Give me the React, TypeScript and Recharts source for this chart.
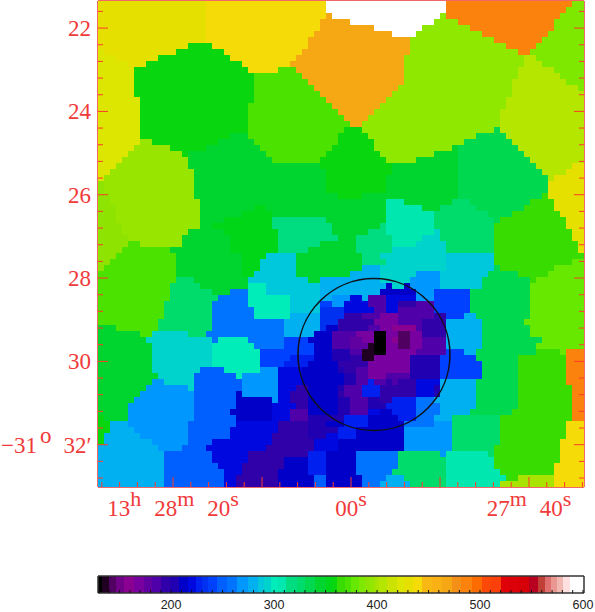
import { ReactElement } from 'react';
import {
  ReferenceArea,
  ReferenceDot,
  Scatter,
  ScatterChart,
  XAxis,
  YAxis,
} from 'recharts';

// intensity scale of the colour bar
const paletteValues = [
  130, 136, 143, 150, 158, 170, 178, 185, 195, 203, 213, 220, 228, 232, 240, 250, 258, 270, 280, 288,
  292, 302, 305, 318, 326, 335, 345, 355, 357, 365, 372, 378, 386, 391, 393, 396, 400, 404, 415,
  423, 430, 440, 448, 458, 468, 477, 487, 497, 506, 516, 524, 533, 543, 552, 560, 566, 572, 578,
  584, 590, 601,
];
const paletteColors = [
  '#000000', '#200020', '#500060', '#700088', '#8a0090', '#7800a0', '#6000a0', '#5000a8', '#3000a8', '#2000b0',
  '#0000c8', '#0008e0', '#0020f0', '#0030f0', '#0040ff', '#0060ff', '#0074ff', '#0098ff', '#00b0f0',
  '#00c8dc', '#00d2cc', '#00ecb8', '#00e8b0', '#00dc80', '#00dc6c', '#00d850', '#00d42e', '#00d618',
  '#08d60f', '#38dc00', '#4ce200', '#66e800', '#7ee800', '#8ee400', '#8ee800', '#98e600', '#a8e400',
  '#b4e600', '#cce200', '#dce600', '#e6e000', '#f5dc08', '#f8b814', '#f8b014', '#f5a814', '#f49018',
  '#fb820c', '#fc6c00', '#fc4808', '#fc400c', '#e00008', '#dc0008', '#d80008', '#b80020', '#c04038',
  '#e07070', '#e89890', '#f0b8b0', '#ffe0e0', '#ffffff', '#ffffff',
];
const colorbarLabels = [200, 300, 400, 500, 600];
const colorbarTicks = [
  130, 140, 150, 160, 170, 180, 190, 200, 210, 220, 230, 240, 250, 260, 270, 280, 290, 300, 310, 320,
  330, 340, 350, 360, 370, 380, 390, 400, 410, 420, 430, 440, 450, 460, 470, 480, 490, 500, 510, 520,
  530, 540, 550, 560, 570, 580, 590, 600,
];

// intensity of each tessellation bin
const binValues: Record<string, number> = {
  a: 430, b: 440, c: 423, D: 357, E: 372, F: 468, G: 600, H: 487, I: 393, J: 386, K: 404, M: 396,
  P: 391, N: 345, R: 335, T: 365, V: 305, W: 326, X: 318, Y: 292, Z: 355, d: 288, e: 280, g: 302,
  h: 258, k: 232, r: 250, s: 240, u: 270, q: 228, t: 220, x: 213, z: 203, w: 195, y: 185, p: 178,
  m: 170, n: 158, o: 143, j: 136, B: 130, A: 378, Q: 400, C: 289,
};

// map rows, top to bottom: bin letter followed by the column where its run ends
const mapRows = [
  'a18 b38 G58 H79 J81',
  'a18 b38 G58 H78 J81',
  'a18 b38 F39 G57 I58 H77 J81',
  'a18 b37 F42 G56 I60 H76 J81',
  'a18 b37 F46 G54 I62 H76 J81',
  'a18 b36 F49 G53 I64 H75 J81',
  'a18 b35 F52 I66 H74 J81',
  'a15 D19 b35 F52 I68 H73 J81',
  'c1 a13 D21 b34 F52 I70 H72 J81',
  'c3 a10 D22 b33 F51 I71 K73 J81',
  'c5 a8 D24 b32 F51 I71 K74 J81',
  'c6 D25 b30 E33 F51 I70 K76 J81',
  'c6 D26 E34 F51 I70 K77 J81',
  'c6 D26 E35 F51 I69 K78 J81',
  'c6 D26 E36 F50 I69 K80 J81',
  'c6 D26 E37 F49 I69 K81',
  'c7 D26 E38 F48 I68 K81',
  'c7 D25 E39 F47 I68 K81',
  'c7 D25 E40 F46 I67 K81',
  'c7 D25 E41 F45 I67 K81',
  'c7 D25 E42 F44 I67 K81',
  'c7 D25 E41 D44 I66 R67 K81',
  'c7 D22 N25 E40 D45 I63 R68 K81',
  'c7 M9 D20 N26 E40 D46 I61 R69 K81',
  'c6 M12 D18 N27 E39 D46 I59 N60 R70 K81',
  'c5 M14 D15 N28 E38 D47 I56 N60 R71 K81',
  'c4 M15 N29 E37 D48 I53 N60 R72 K81',
  'c3 M15 N37 D49 N60 R73 K79 a81',
  'c2 M16 N38 D49 N60 R74 K78 a81',
  'c1 M16 N38 D48 N60 R75 K76 a81',
  'P1 M16 N38 D48 N60 R75 a81',
  'P1 M16 N38 D48 N60 R75 a81',
  'P2 M16 N40 D44 N60 R74 T75 a81',
  'P2 M17 N48 V51 N59 W62 R72 T76 a81',
  'P3 M17 N26 Z28 N48 V54 N57 W63 R71 T76 a81',
  'P3 M17 N24 Z29 N48 V56 W65 R69 T77 a81',
  'P3 M17 N21 Z29 X38 N48 V56 W66 R67 T78 a81',
  'P4 M17 N19 Z29 X39 N47 X48 V56 W66 T78 a81',
  'P4 M15 N21 Z30 X39 N45 X48 V56 Y57 W66 T79 a81',
  'P5 M14 N22 Z30 X40 N43 X49 V54 Y57 W66 T79 a81',
  'P5 E7 M14 N22 Z30 X37 N43 X49 V53 Y58 W66 T80 a81',
  'P4 E12 N22 Z30 X35 N43 X49 Y58 W66 T80 a81',
  'P3 E13 N24 Z28 d33 N44 X47 Y58 C66 T81',
  'P2 E13 N24 Z27 d33 N44 X48 Y58 C66 T79 A81',
  'P1 E13 N24 Z27 d33 N44 e47 Y58 C66 R67 T76 A81',
  'E13 N24 Z26 d33 N42 e47 Y53 u57 C65 R70 T75 A81',
  'E13 W16 N25 d35 N37 e47 Y52 u57 C64 R72 T73 A81',
  'E12 W17 N25 g28 d37 e48 x49 Y51 x52 u57 C64 R72 A81',
  'E12 W19 N22 h25 g28 d37 e47 x53 u56 s62 R72 A81',
  'E12 W20 h25 g32 d37 e39 u42 t44 e45 y48 t53 u56 s62 R72 A81',
  'E11 W19 h25 g32 d37 s39 u41 t45 y48 t50 w53 y56 s62 R72 A81',
  'E11 W19 h26 g32 d37 k41 t46 y48 t50 y56 s62 R72 A81',
  'E11 W19 h26 g32 e37 k41 w44 y47 m50 y56 w58 s61 e63 R72 A81',
  'E10 W19 h31 e37 k40 w46 m50 y54 w58 e64 R71 A81',
  'N3 E10 W19 h31 e37 k38 x40 w45 y47 m49 n53 y54 w58 e64 R72 A81',
  'N7 E9 Y15 W18 h31 e36 x39 y43 m46 B48 m50 o52 m54 w58 e64 R72 A81',
  'N8 Y19 h20 g25 h31 s35 x39 y42 p44 m46 B48 m49 n50 o52 m54 y58 e64 R74 A81',
  'N9 Y19 g26 h31 s36 x39 y42 p45 j46 B48 m50 o52 m54 y58 e64 R73 A81',
  'N9 Y19 g27 s36 x39 z42 y44 j46 B48 m53 y58 s61 e63 R73 T77 A78 H81',
  'N9 Y19 g27 s32 q36 x39 z42 w44 j46 m52 z57 s63 R70 T78 H81',
  'N9 Y19 g27 s31 q35 x40 w45 m52 z57 s64 R70 T78 H81',
  'N9 Y17 r21 g27 u30 t34 x40 z41 w43 y45 m52 z57 s64 R70 T78 H81',
  'N10 Y16 r23 g24 u30 t34 x41 z43 y45 m48 y52 z57 s64 R70 T78 H81',
  'N9 u11 Y16 r24 u30 t34 x41 z43 y45 q46 y48 w49 y50 w53 t57 e63 R70 T78 H81',
  'N8 u15 Y16 r24 u30 t33 w35 x40 z41 y44 q47 w53 t56 z57 e63 R70 T79 H81',
  'N7 u16 r23 x24 u30 t32 w35 x40 w41 y44 q47 w53 t56 z57 e63 R70 T79 H81',
  'N6 u16 r23 x29 u30 t32 w35 x40 z42 y45 z47 w49 q53 h56 e63 R70 T79 H81',
  'N5 u16 r23 x29 t33 w35 x40 z42 y45 z48 q53 h57 e63 R70 T79 H81',
  'N5 u16 r22 x29 t32 y35 x40 z42 y45 t47 x49 q53 h57 e62 R69 T79 H81',
  'D1 N5 u16 r23 x29 t32 y35 z41 q45 x50 q53 h56 e59 W67 T79 H81',
  'D2 e5 u15 r23 t30 w35 z38 x41 q45 x51 h56 u59 W67 T78 b81',
  'D2 e6 u15 r22 t30 w35 z40 q43 x51 u59 W67 T78 b81',
  'D1 e7 u15 r22 t29 w35 z38 t40 q43 x51 u59 W67 T78 b81',
  'D1 e9 u15 r19 t29 w36 t40 x51 u59 W67 T77 b81',
  'e10 u14 r18 t28 w36 t40 x51 u59 W66 T77 b81',
  'e11 r19 t25 w35 q38 x43 h50 W57 u58 V65 W66 T77 b81',
  'e11 r19 t25 w31 x35 q38 x43 h50 W58 V66 T77 b81',
  'e11 r20 t24 w31 x35 q38 x43 h50 W58 V66 T76 b81',
  'e11 r21 t24 w30 x35 q38 x43 h49 W58 V67 T76 b81',
  'e11 r21 t23 w30 x36 r38 x44 h48 e51 W58 V68 T70 Q76 b81',
  'e11 r21 t23 w30 x36 r38 x44 h47 e52 W58 V67 Q76 b81',
];

// axes: RA in seconds from 13h28m00s, Dec in arcmin below -31 deg
const raDomain: [number, number] = [-26.18, 28.43];
const decDomain: [number, number] = [21.35, 33.015];
const raTicks = [
  28, 26, 24, 22, 20, 18, 16, 14, 12, 10, 8, 6, 4, 2, 0, -2, -4, -6, -8, -10, -12, -14, -16, -18, -20,
  -22, -24, -26,
];
const raMajor = [20, 10, 0, -10, -20];
const raLabels: Record<number, [string, string][]> = {
  20: [['13', 'h'], ['28', 'm'], ['20', 's']],
  0: [['00', 's']],
  [-20]: [['27', 'm'], ['40', 's']],
};
const decTicks = [
  21.6, 22, 22.4, 22.8, 23.2, 23.6, 24, 24.4, 24.8, 25.2, 25.6, 26, 26.4, 26.8, 27.2, 27.6, 28, 28.4,
  28.8, 29.2, 29.6, 30, 30.4, 30.8, 31.2, 31.6, 32, 32.4, 32.8,
];
const decMajor = [22, 24, 26, 28, 30, 32];
const aperture = { ra: -2.58, dec: 29.835 };

const WIDTH = 595;
const PLOT = { left: 98, right: 584, top: 1, bottom: 487 };
const CELL = (PLOT.right - PLOT.left) / 81;
const RED = '#f03a3a';
const TICK = '#ff3a28';
const FRAME = '#f0686a';
const SERIF = '"Liberation Serif", serif';

const colorFor = (value: number) => {
  let best = 0;
  paletteValues.forEach((v, i) => {
    if (Math.abs(v - value) < Math.abs(paletteValues[best] - value)) best = i;
  });
  return paletteColors[best];
};

const cells = mapRows.flatMap((row, r) => {
  const out: { ra: number; dec: number; value: number }[] = [];
  let col = 0;
  row.split(' ').forEach((run) => {
    const value = binValues[run[0]];
    const end = Number(run.slice(1));
    for (; col < end; col++) {
      out.push({
        ra: raDomain[1] - ((col + 0.5) / 81) * (raDomain[1] - raDomain[0]),
        dec: decDomain[0] + ((r + 0.5) / 81) * (decDomain[1] - decDomain[0]),
        value,
      });
    }
  });
  return out;
});

const barPoints = paletteValues.map((value) => ({ value, y: 0.5 }));

function Cell(props: any): ReactElement {
  return (
    <rect
      x={Math.round(props.cx - CELL / 2)}
      y={Math.round(props.cy - CELL / 2)}
      width={CELL}
      height={CELL}
      fill={colorFor(props.payload.value)}
      shapeRendering="crispEdges"
    />
  );
}

function RaTick({ x, payload, side }: any) {
  const len = raMajor.includes(payload.value) ? 10 : 5;
  const parts = raLabels[payload.value];
  const y0 = side === 'top' ? PLOT.top : PLOT.bottom;
  const y1 = side === 'top' ? PLOT.top + len : PLOT.bottom - len;
  return (
    <g>
      <line x1={x} x2={x} y1={y0} y2={y1} stroke={TICK} strokeWidth={1} />
      {side === 'bottom' && parts && (
        <text x={x} y={516} textAnchor="middle" fill={RED} fontFamily={SERIF} fontSize={23}>
          {parts.map(([main, sup], i) => (
            <tspan key={main + i}>
              <tspan dx={i ? 13 : 0} dy={i ? 10 : 0}>{main}</tspan>
              <tspan dy={-10} fontSize={22}>{sup}</tspan>
            </tspan>
          ))}
        </text>
      )}
    </g>
  );
}

function DecTick({ y, payload, side }: any) {
  const len = decMajor.includes(payload.value) ? 10 : 5;
  const x0 = side === 'left' ? PLOT.left : PLOT.right;
  const x1 = side === 'left' ? PLOT.left + len : PLOT.right - len;
  const common = { fill: RED, fontFamily: SERIF, fontSize: 23 };
  return (
    <g>
      <line x1={x0} x2={x1} y1={y} y2={y} stroke={TICK} strokeWidth={1} />
      {side === 'left' && decMajor.includes(payload.value) && payload.value !== 32 && (
        <text x={91} y={y + 8} textAnchor="end" {...common}>{payload.value}</text>
      )}
      {side === 'left' && payload.value === 32 && (
        <text x={1} y={y + 8} {...common}>
          <tspan>{'\u2212'}31</tspan>
          <tspan dx={3} dy={-10}>o</tspan>
          <tspan dx={12} dy={10}>32</tspan>
          <tspan>{'\u2032'}</tspan>
        </text>
      )}
    </g>
  );
}

function BarTick({ x, payload, side }: any) {
  const top = side === 'top';
  const y0 = top ? 0 : 18;
  return (
    <g>
      <line x1={x} x2={x} y1={y0} y2={top ? 3 : 15} stroke="#111" strokeWidth={1} />
      {!top && colorbarLabels.includes(payload.value) && (
        <text
          x={x}
          y={34}
          textAnchor="middle"
          fill="#222"
          fontFamily='"Liberation Sans", sans-serif'
          fontSize={12.5}
        >
          {payload.value}
        </text>
      )}
    </g>
  );
}

const frameLine = { stroke: FRAME, strokeWidth: 2 };
const barLine = { stroke: '#333', strokeWidth: 1.5 };

export default function App() {
  return (
    <div style={{ position: 'absolute', left: 0, top: 0, width: WIDTH, height: 612, background: '#fff' }}>
      <div style={{ position: 'absolute', left: 0, top: 0 }}>
        <ScatterChart
          width={WIDTH}
          height={560}
          margin={{ top: PLOT.top - 1, bottom: 560 - PLOT.bottom - 1, left: PLOT.left - 1, right: WIDTH - PLOT.right - 1 }}
          style={{ overflow: 'visible' }}
        >
          <Scatter
            data={cells}
            dataKey="dec"
            xAxisId="ra"
            yAxisId="dec"
            shape={Cell}
            isAnimationActive={false}
          />
          <XAxis
            xAxisId="ra"
            dataKey="ra"
            type="number"
            orientation="bottom"
            domain={raDomain}
            reversed
            allowDataOverflow
            ticks={raTicks}
            interval={0}
            height={1}
            tickLine={false}
            axisLine={frameLine}
            tick={(p: any) => <RaTick {...p} side="bottom" />}
          />
          <XAxis
            xAxisId="raTop"
            type="number"
            orientation="top"
            domain={raDomain}
            reversed
            allowDataOverflow
            ticks={raTicks}
            interval={0}
            height={1}
            tickLine={false}
            axisLine={frameLine}
            tick={(p: any) => <RaTick {...p} side="top" />}
          />
          <YAxis
            yAxisId="dec"
            dataKey="dec"
            type="number"
            orientation="left"
            domain={decDomain}
            reversed
            allowDataOverflow
            ticks={decTicks}
            interval={0}
            width={1}
            tickLine={false}
            axisLine={frameLine}
            tick={(p: any) => <DecTick {...p} side="left" />}
          />
          <YAxis
            yAxisId="decRight"
            type="number"
            orientation="right"
            domain={decDomain}
            reversed
            allowDataOverflow
            ticks={decTicks}
            interval={0}
            width={1}
            tickLine={false}
            axisLine={frameLine}
            tick={(p: any) => <DecTick {...p} side="right" />}
          />
          <ReferenceDot
            xAxisId="ra"
            yAxisId="dec"
            x={aperture.ra}
            y={aperture.dec}
            r={76}
            fill="none"
            stroke="#101018"
            strokeWidth={1.5}
            ifOverflow="visible"
          />
        </ScatterChart>
      </div>
      <div style={{ position: 'absolute', left: 0, top: 575 }}>
        <ScatterChart
          width={WIDTH}
          height={37}
          margin={{ top: 0, bottom: 18, left: PLOT.left - 1, right: WIDTH - PLOT.right - 1 }}
        >
          <Scatter
            data={barPoints}
            dataKey="y"
            xAxisId="value"
            yAxisId="band"
            shape={() => <g />}
            isAnimationActive={false}
          />
          {paletteValues.map((v, i) => (
            <ReferenceArea
              key={v}
              xAxisId="value"
              yAxisId="band"
              x1={i ? (paletteValues[i - 1] + v) / 2 : 129}
              x2={i < paletteValues.length - 1 ? (v + paletteValues[i + 1]) / 2 : 601}
              y1={0}
              y2={1}
              fill={paletteColors[i]}
              fillOpacity={1}
              stroke="none"
              ifOverflow="visible"
              shapeRendering="crispEdges"
            />
          ))}
          <XAxis
            xAxisId="value"
            dataKey="value"
            type="number"
            orientation="bottom"
            domain={[129, 601]}
            ticks={colorbarTicks}
            interval={0}
            height={1}
            tickLine={false}
            axisLine={barLine}
            tick={(p: any) => <BarTick {...p} side="bottom" />}
          />
          <XAxis
            xAxisId="valueTop"
            type="number"
            orientation="top"
            domain={[129, 601]}
            ticks={colorbarTicks}
            interval={0}
            height={1}
            tickLine={false}
            axisLine={barLine}
            tick={(p: any) => <BarTick {...p} side="top" />}
          />
          <YAxis
            yAxisId="band"
            dataKey="y"
            type="number"
            domain={[0, 1]}
            width={1}
            tick={false}
            tickLine={false}
            axisLine={barLine}
          />
          <YAxis
            yAxisId="bandRight"
            type="number"
            orientation="right"
            domain={[0, 1]}
            width={1}
            tick={false}
            tickLine={false}
            axisLine={barLine}
          />
        </ScatterChart>
      </div>
    </div>
  );
}
